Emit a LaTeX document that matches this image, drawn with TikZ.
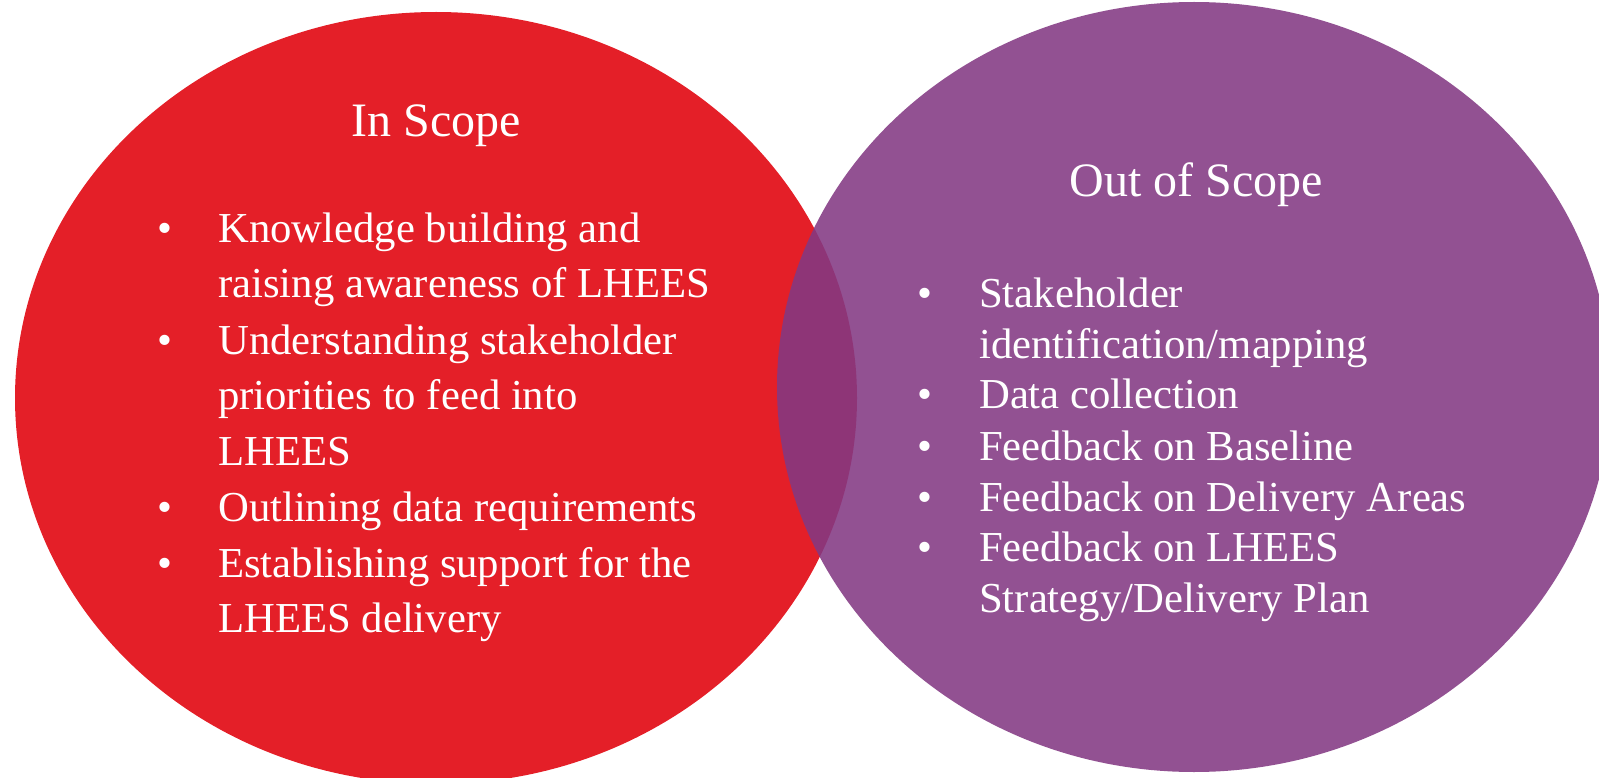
\documentclass[tikz,border=0pt]{standalone}
\usepackage{fontspec}
\setmainfont{Liberation Serif}
\usepackage{tikz}
\usetikzlibrary{positioning}

\definecolor{scopered}{RGB}{228,31,40}
\definecolor{scopepurple}{RGB}{131,57,131}

\begin{document}
\begin{tikzpicture}[
  x=1pt, y=-1pt,
  title/.style={text=white, inner sep=0pt, anchor=base,
                font=\fontsize{48}{55}\selectfont},
  item/.style={text=white, inner sep=0pt, anchor=base west,
               font=\fontsize{42.7}{50}\selectfont},
  dot/.style={text=white, inner sep=0pt, anchor=base,
              font=\fontsize{42.7}{50}\selectfont}
]
  \useasboundingbox (0,0) rectangle (1599,778);

  % Left circle (in scope), right one laid over it
  \fill[scopered] (436,398) ellipse [x radius=421, y radius=386];
  \fill[scopepurple, opacity=0.88] (1194,387) ellipse [x radius=417, y radius=385];

  % Headings
  \node[title] (inhead) at (436,137) {In Scope};
  \node[title] (outhead) at (1196,197) {Out of Scope};

  % In scope list - text lines
  \foreach \y/\txt [count=\i] in {243/{Knowledge building and},
      298/{raising awareness of LHEES}, 354/{Understanding stakeholder},
      409/{priorities to feed into}, 465/{LHEES},
      521/{Outlining data requirements}, 577/{Establishing support for the},
      632/{LHEES delivery}}{
    \node[item] (in\i) at (218,\y) {\txt};
  }
  % In scope list - bullets
  \foreach \y [count=\i] in {243, 354, 521, 577}{
    \node[dot] (inb\i) at (165,\y) {\textbullet};
  }

  % Out of scope list - text lines
  \foreach \y/\txt [count=\i] in {307/{Stakeholder},
      358/{identification/mapping}, 408/{Data collection},
      460/{Feedback on Baseline}, 511/{Feedback on Delivery Areas},
      561/{Feedback on LHEES}, 612/{Strategy/Delivery Plan}}{
    \node[item] (out\i) at (979,\y) {\txt};
  }
  % Out of scope list - bullets
  \foreach \y [count=\i] in {307, 408, 460, 511, 561}{
    \node[dot] (outb\i) at (925,\y) {\textbullet};
  }
\end{tikzpicture}
\end{document}
